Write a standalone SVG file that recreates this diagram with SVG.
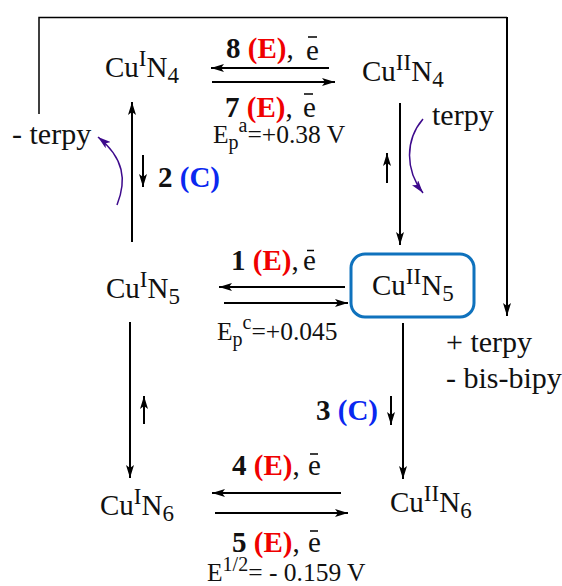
<svg xmlns="http://www.w3.org/2000/svg" width="562" height="586" viewBox="0 0 562 586">
<style>
text{font-family:"Liberation Serif","Times New Roman",serif;font-size:29px;fill:#111}
.s{font-size:23px}
.t{font-size:20px}
.b{font-weight:bold}
.r{font-weight:bold;fill:#f00000}
.u{font-weight:bold;fill:#0a28f0}
.e{font-size:25.500px}
.l{fill:none;stroke:#000;stroke-width:2}
.a{fill:none;stroke:#000;stroke-width:2;marker-end:url(#h)}
.p{fill:none;stroke:#3d0a8c;stroke-width:1.5;marker-end:url(#v)}
.w{font-size:30px}
</style>
<defs>
<marker id="h" markerUnits="userSpaceOnUse" markerWidth="14" markerHeight="8" refX="13" refY="4" orient="auto"><path d="M0 0L13 4L0 8L3 4Z" fill="#000"/></marker>
<marker id="v" markerUnits="userSpaceOnUse" markerWidth="14" markerHeight="8" refX="13" refY="4" orient="auto"><path d="M0 0L13 4L0 8L3 4Z" fill="#3d0a8c"/></marker>
</defs>
<g id="connectors">
<path class="l" style="stroke-width:1.5" d="M39 114V17.500H507"/>
<path class="a" d="M507 17V316"/>
<path class="a" d="M329 68H211"/>
<path class="a" d="M212 82H335"/>
<path class="a" d="M132 242V102"/>
<path class="a" d="M143 155V187"/>
<path class="a" d="M400 103V245"/>
<path class="a" d="M387 183V153"/>
<path class="a" d="M345 287H219"/>
<path class="a" d="M224 303H348"/>
<path class="a" d="M130 322V478"/>
<path class="a" d="M144 424V396"/>
<path class="a" d="M403 323V479"/>
<path class="a" d="M391 396V425"/>
<path class="a" d="M341 493H212"/>
<path class="a" d="M215 513H348"/>
<path class="p" d="M117 205C127 180 124 158 98 137"/>
<path class="p" d="M423 119C405 140 405 170 423 193"/>
</g>
<g id="cu1n4"><text x="105" y="77">Cu<tspan class="s" dy="-11">I</tspan><tspan dy="11">N</tspan><tspan class="s" dy="6">4</tspan></text></g>
<g id="cu2n4"><text x="362" y="81">Cu<tspan class="s" dy="-11">II</tspan><tspan dy="11">N</tspan><tspan class="s" dy="6">4</tspan></text></g>
<g id="cu1n5"><text x="106" y="298">Cu<tspan class="s" dy="-11">I</tspan><tspan dy="11">N</tspan><tspan class="s" dy="6">5</tspan></text></g>
<g id="cu2n5"><rect x="351" y="254" width="123" height="63" rx="14" fill="none" stroke="#0f72bd" stroke-width="3"/><text x="372" y="295">Cu<tspan class="s" dy="-11">II</tspan><tspan dy="11">N</tspan><tspan class="s" dy="6">5</tspan></text></g>
<g id="cu1n6"><text x="100" y="515">Cu<tspan class="s" dy="-11">I</tspan><tspan dy="11">N</tspan><tspan class="s" dy="6">6</tspan></text></g>
<g id="cu2n6"><text x="390" y="512">Cu<tspan class="s" dy="-11">II</tspan><tspan dy="11">N</tspan><tspan class="s" dy="6">6</tspan></text></g>
<g id="labels">
<text x="226" y="58"><tspan class="b">8 </tspan><tspan class="r">(E)</tspan>,</text><text x="306" y="60">e</text>
<text x="225" y="117"><tspan class="b">7 </tspan><tspan class="r">(E)</tspan>,</text><text x="303" y="117">e</text>
<text class="e" x="213" y="143">E<tspan class="t" dy="6">p</tspan><tspan class="t" dy="-17">a</tspan><tspan dy="11">=+0.38 V</tspan></text>
<text x="158" y="187"><tspan class="b">2 </tspan><tspan class="u">(C)</tspan></text>
<text class="w" x="12" y="144">- terpy</text>
<text class="w" x="432" y="125">terpy</text>
<text x="231" y="270"><tspan class="b">1 </tspan><tspan class="r">(E)</tspan>,</text><text x="303" y="270">e</text>
<text class="e" x="217" y="340">E<tspan class="t" dy="6">p</tspan><tspan class="t" dy="-17">c</tspan><tspan dy="11">=+0.045</tspan></text>
<text class="w" x="446" y="352">+ terpy</text>
<text class="w" x="446" y="388">- bis-bipy</text>
<text x="316" y="420"><tspan class="b">3 </tspan><tspan class="u">(C)</tspan></text>
<text x="232" y="475"><tspan class="b">4 </tspan><tspan class="r">(E)</tspan>,</text><text x="308" y="475">e</text>
<text x="232" y="552"><tspan class="b">5 </tspan><tspan class="r">(E)</tspan>,</text><text x="308" y="552">e</text>
<text class="e" x="207" y="581">E<tspan class="t" dy="-10">1/2</tspan><tspan dy="10">= - 0.159 V</tspan></text>
<path class="l" d="M308 37h9M304 94h9M307 250.500h7M310 454h8M310 531h8" style="stroke-width:1.3"/>
</g>
</svg>
